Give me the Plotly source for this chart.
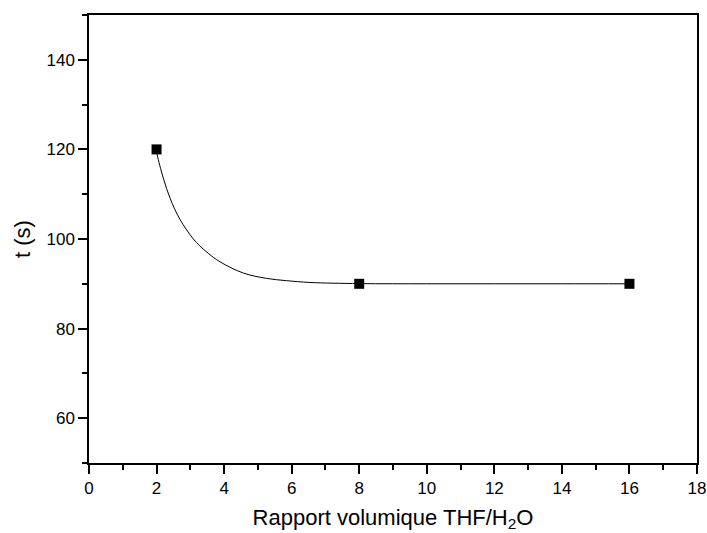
import plotly.graph_objects as go

# Measured data points
x_pts = [2, 8, 16]
y_pts = [120, 90, 90]

# Fitted curve
x_curve = [2.0, 2.02, 2.2, 2.4, 2.69, 3.09, 3.28, 3.53, 3.88, 4.57, 5.26, 5.85, 6.54, 8.0, 10.0, 12.0, 14.0, 16.0]
y_curve = [120.0, 118.8, 113.6, 109.1, 104.4, 100.0, 98.5, 96.8, 94.9, 92.4, 91.2, 90.7, 90.3, 90.05, 90.0, 90.0, 90.0, 90.0]

x_ticks = [0, 2, 4, 6, 8, 10, 12, 14, 16, 18]
y_ticks = [60, 80, 100, 120, 140]

fig = go.Figure()
fig.add_trace(go.Scatter(x=x_curve, y=y_curve, mode="lines",
                         line=dict(color="black", width=1, shape="spline"),
                         hoverinfo="skip", showlegend=False))
fig.add_trace(go.Scatter(x=x_pts, y=y_pts, mode="markers",
                         marker=dict(symbol="square", size=10, color="black"),
                         showlegend=False))

family = "Liberation Sans, Arial, sans-serif"
tick_font = dict(family=family, size=17, color="black")
title_font = dict(family=family, size=22, color="black")

fig.update_layout(
    width=707, height=533,
    margin=dict(l=89, r=10, t=15, b=70),
    plot_bgcolor="white", paper_bgcolor="white",
    font=tick_font,
    xaxis=dict(range=[0, 18], tickvals=x_ticks, ticks="outside", ticklen=9, tickwidth=1.5,
               minor=dict(dtick=1, ticks="outside", ticklen=5, tickwidth=1.5, tickcolor="black"),
               showline=True, linewidth=1.5, linecolor="black", mirror=True, automargin=False,
               showgrid=False, zeroline=False, tickcolor="black", tickfont=tick_font,
               title=dict(text="Rapport volumique THF/H<sub>2</sub>O", standoff=12, font=title_font)),
    yaxis=dict(range=[50, 150], tickvals=y_ticks, ticks="outside", ticklen=9, tickwidth=1.5,
               minor=dict(dtick=10, ticks="outside", ticklen=5, tickwidth=1.5, tickcolor="black"),
               showline=True, linewidth=1.5, linecolor="black", mirror=True, automargin=False,
               showgrid=False, zeroline=False, tickcolor="black", tickfont=tick_font,
               title=dict(text="t (s)", standoff=10, font=title_font)),
)

fig.write_html("out.html", config={"displayModeBar": False},
               post_script="document.body.style.margin='0';document.body.style.overflow='hidden';")
